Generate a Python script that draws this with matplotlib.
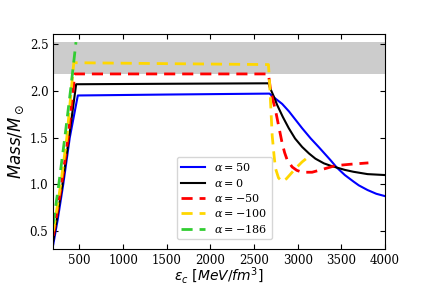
import matplotlib
matplotlib.use('Agg')
import matplotlib.pyplot as plt
from matplotlib.font_manager import FontProperties

plt.rcParams['font.family'] = 'serif'
plt.rcParams['font.serif'] = ['DejaVu Serif']
plt.rcParams['mathtext.fontset'] = 'dejavuserif'

# curvas massa x densidade central
eps_a50 = [200, 250, 314, 389, 481, 1500, 2677, 2720, 2822, 2900, 3051, 3150, 3240, 3375, 3448, 3540, 3640, 3700, 3800, 3900, 4000]
m_a50 = [0.36, 0.62, 1.0, 1.5, 1.95, 1.96, 1.97, 1.935, 1.86, 1.78, 1.60, 1.49, 1.40, 1.26, 1.18, 1.10, 1.03, 0.99, 0.94, 0.90, 0.875]

eps_a0 = [200, 245, 305, 380, 462, 1500, 2665, 2688, 2726, 2764, 2830, 2898, 2970, 3051, 3130, 3203, 3300, 3375, 3448, 3540, 3638, 3800, 4000]
m_a0 = [0.40, 0.65, 1.0, 1.5, 2.07, 2.075, 2.08, 2.02, 1.94, 1.85, 1.72, 1.60, 1.49, 1.40, 1.33, 1.275, 1.225, 1.20, 1.18, 1.155, 1.135, 1.11, 1.10]

eps_am50 = [200, 240, 295, 370, 446, 1500, 2665, 2690, 2746, 2785, 2822, 2850, 2880, 2937, 2990, 3051, 3165, 3262, 3375, 3428, 3600, 3810]
m_am50 = [0.45, 0.68, 1.0, 1.5, 2.18, 2.18, 2.18, 2.00, 1.79, 1.61, 1.44, 1.34, 1.26, 1.186, 1.15, 1.13, 1.13, 1.155, 1.185, 1.20, 1.215, 1.23]

eps_am100 = [200, 235, 285, 355, 435, 1500, 2665, 2680, 2708, 2730, 2746, 2780, 2822, 2870, 2975, 3050, 3130]
m_am100 = [0.50, 0.70, 1.0, 1.5, 2.30, 2.29, 2.28, 2.05, 1.52, 1.30, 1.17, 1.07, 1.03, 1.06, 1.17, 1.24, 1.30]

eps_am186 = [200, 225, 263, 332, 397, 460]
m_am186 = [0.58, 0.75, 1.0, 1.5, 2.0, 2.52]

fig = plt.figure(figsize=(4.28, 2.85), dpi=100)
ax = fig.add_axes([0.1245, 0.1263, 0.775, 0.7555])

ax.axhspan(2.18, 2.52, color='0.8', lw=0, zorder=0)

ax.plot(eps_a50, m_a50, color='blue', lw=1.5, label=r'$\alpha = 50$')
ax.plot(eps_a0, m_a0, color='black', lw=1.5, label=r'$\alpha = 0$')
ax.plot(eps_am50, m_am50, color='red', lw=2, ls=(0, (4, 2.5)), label=r'$\alpha = -50$')
ax.plot(eps_am100, m_am100, color='gold', lw=2, ls=(0, (4, 2.5)), label=r'$\alpha = -100$')
ax.plot(eps_am186, m_am186, color='limegreen', lw=2, ls=(0, (4, 2.5)), label=r'$\alpha = -186$')

ax.set_xlim(200, 4000)
ax.set_ylim(0.31, 2.61)
ax.set_xticks([500, 1000, 1500, 2000, 2500, 3000, 3500, 4000])
ax.set_yticks([0.5, 1.0, 1.5, 2.0, 2.5])
ax.tick_params(direction='in', top=True, right=True, labelsize=8.5, labelfontfamily='DejaVu Serif')

ax.set_xlabel(r'$\varepsilon_c\ [MeV/fm^3]$', fontsize=10, math_fontfamily='dejavusans')
ax.xaxis.set_label_coords(0.5, -0.079)
ax.set_ylabel(r'$Mass/M_\odot$', fontsize=12, math_fontfamily='dejavusans', labelpad=3)

ax.legend(loc='lower left', bbox_to_anchor=(0.355, 0.02), prop=FontProperties(family='DejaVu Serif', size=8),
          handlelength=2.2, labelspacing=0.3, borderpad=0.4, frameon=True)

fig.savefig('out.png', dpi=100)
